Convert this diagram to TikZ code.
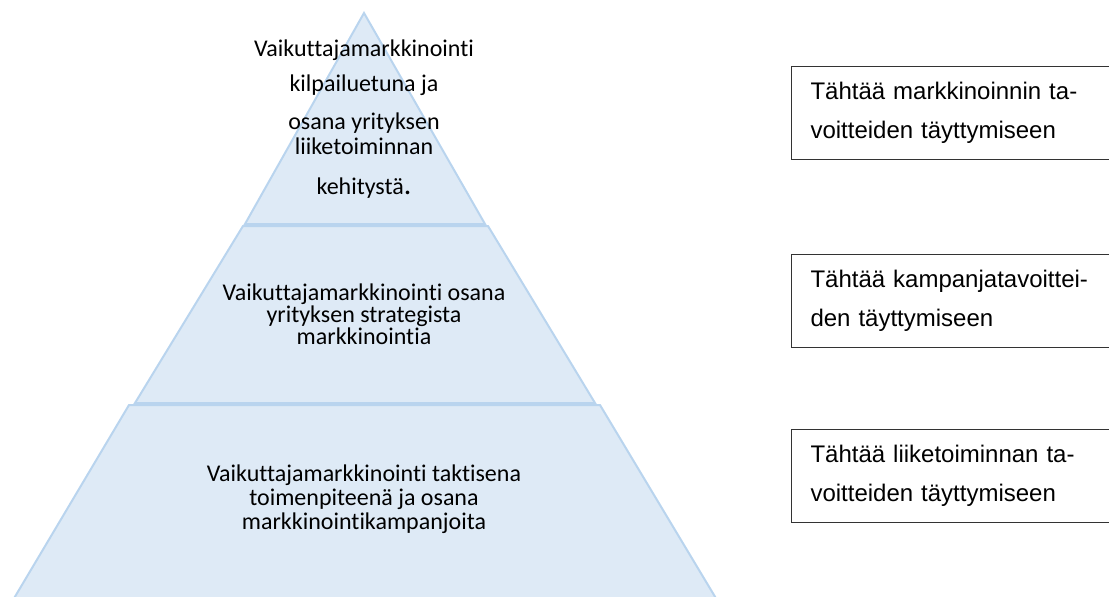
\documentclass[tikz,border=0pt]{standalone}
\usepackage{fontspec}
\setmainfont{Carlito}[Ligatures={NoCommon}]
\newfontfamily\boxfont{Liberation Sans}
\usepackage{tikz}
\usetikzlibrary{positioning}
\definecolor{layerfill}{HTML}{DEEAF6}
\definecolor{layerline}{HTML}{B9D4EE}
\tikzset{%
	layer/.style     = {fill=layerfill, draw=layerline, line width=2pt, line join=miter},
	layertext/.style = {inner sep=0pt, align=center, anchor=north, font=\fontsize{24}{22}\selectfont},
	goal/.style      = {draw=black!80, line width=1pt, rectangle, anchor=north west, minimum width=316pt, minimum height=93pt, inner xsep=19pt, align=left, text width=290pt, font=\boxfont\fontsize{24}{38.5}\selectfont},
}

\begin{document}
\begin{tikzpicture}[x=1pt,y=-1pt]
	\useasboundingbox (0,0) rectangle (1109,597);
	% pyramid layers
	\draw[layer] (129,405) -- (600,405) -- (717,600) -- (13,600) -- cycle;
	\draw[layer] (243,226) -- (488,226) -- (595,403) -- (135,403) -- cycle;
	\draw[layer] (364,13) -- (485,224) -- (245,224) -- cycle;
	
	\node [layertext] (top) at (364,40) {Vaikuttajamarkkinointi\\[13pt]kilpailuetuna ja\\[16pt]osana yrityksen\\[3pt]liiketoiminnan\\[18pt]kehitystä{\fontsize{30}{22}\selectfont.}};
	\node [layertext] (mid) at (364,284) {Vaikuttajamarkkinointi osana\\yrityksen strategista\\markkinointia};
	\node [layertext,font=\fontsize{24}{24}\selectfont] (low) at (364,465) {Vaikuttajamarkkinointi taktisena\\toimenpiteenä ja osana\\markkinointikampanjoita};
	
	% goals
	\node [goal] (g1) at (791,66) {Tähtää markkinoinnin ta-\\voitteiden täyttymiseen};
	\node [goal] (g2) at (791,254) {Tähtää kampanjatavoittei-\\den täyttymiseen};
	\node [goal] (g3) at (791,429) {Tähtää liiketoiminnan ta-\\voitteiden täyttymiseen};
\end{tikzpicture}
\end{document}
